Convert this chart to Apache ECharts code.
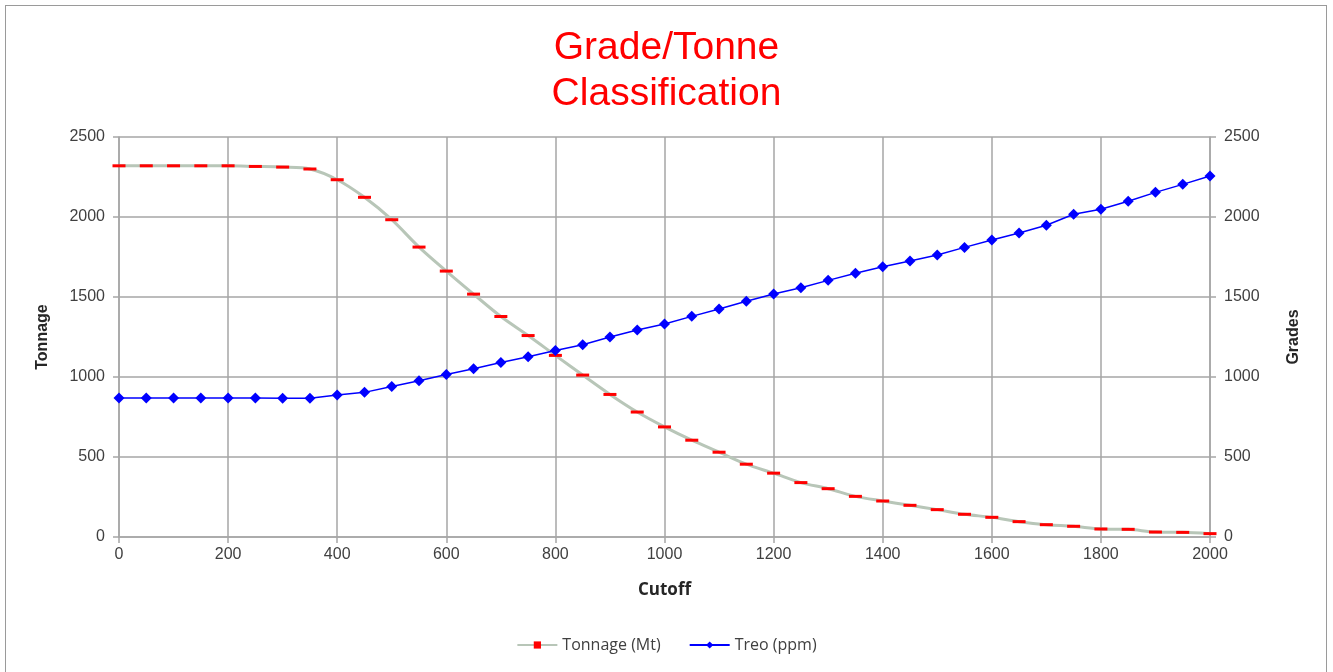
<!DOCTYPE html>
<html>
<head>
<meta charset="utf-8">
<title>Grade/Tonne Classification</title>
<script src="https://cdn.jsdelivr.net/npm/echarts@6/dist/echarts.min.js"></script>
<style>
  html, body { margin: 0; padding: 0; background: #fff; }
  #frame { position: absolute; left: 5px; top: 5px; width: 1322px; height: 680px; border: 1px solid #9a9a9a; box-sizing: border-box; }
  #chart { position: absolute; left: 0; top: 0; width: 1333px; height: 672px; }
</style>
</head>
<body>
<div id="frame"></div>
<div id="chart"></div>
<script>
// cutoff grades (x axis)
const cutoffs = [0, 50, 100, 150, 200, 250, 300, 350, 400, 450, 500, 550, 600, 650, 700, 750, 800,
  850, 900, 950, 1000, 1050, 1100, 1150, 1200, 1250, 1300, 1350, 1400, 1450, 1500, 1550, 1600,
  1650, 1700, 1750, 1800, 1850, 1900, 1950, 2000];

// Tonnage (Mt)
const tonnage = [2320, 2320, 2320, 2320, 2320, 2316, 2312, 2300, 2233, 2123, 1983, 1812, 1662, 1518, 1378, 1259, 1135,
  1012, 891, 781, 688, 605, 530, 455, 399, 340, 302, 254, 225, 198, 171, 142, 123,
  96, 77, 67, 50, 48, 31, 29, 21];

// Treo (ppm)
const treo = [868, 868, 868, 868, 868, 868, 867, 867, 887, 904, 940, 977, 1016, 1051, 1090, 1127, 1165,
  1202, 1250, 1294, 1331, 1379, 1425, 1473, 1519, 1558, 1604, 1648, 1689, 1725, 1762, 1810, 1856,
  1900, 1948, 2017, 2048, 2098, 2154, 2204, 2256];

const gridColor = '#a6a6a6';
const labelColor = '#404040';
const plain = v => String(v);

const chart = echarts.init(document.getElementById('chart'));

chart.setOption({
  animation: false,
  backgroundColor: 'transparent',
  title: {
    text: 'Grade/Tonne\nClassification',
    left: 'center',
    top: 20,
    textStyle: {
      color: '#ff0000',
      fontFamily: 'Liberation Sans, Arial, sans-serif',
      fontSize: 39,
      fontWeight: 'normal',
      lineHeight: 46
    }
  },
  grid: { left: 119, right: 123, top: 137, bottom: 135 },
  legend: {
    bottom: 14,
    left: 'center',
    itemWidth: 40,
    itemHeight: 9,
    itemGap: 28,
    textStyle: { color: '#404040', fontSize: 16, fontFamily: 'Open Sans, sans-serif' },
    data: ['Tonnage (Mt)', 'Treo (ppm)']
  },
  xAxis: {
    type: 'value',
    min: 0,
    max: 2000,
    interval: 200,
    name: 'Cutoff',
    nameLocation: 'middle',
    nameGap: 45,
    nameTextStyle: { color: '#262626', fontSize: 17, fontWeight: 'bold', fontFamily: 'Open Sans, sans-serif' },
    axisLine: { show: true, lineStyle: { color: gridColor, width: 1.5 } },
    axisTick: { show: true, length: 6, lineStyle: { color: gridColor, width: 1.5 } },
    axisLabel: { color: labelColor, fontSize: 16, margin: 10, formatter: plain, fontFamily: 'Liberation Sans, Arial, sans-serif' },
    splitLine: { show: true, lineStyle: { color: gridColor, width: 1.5 } }
  },
  yAxis: [
    {
      type: 'value',
      min: 0,
      max: 2500,
      interval: 500,
      name: 'Tonnage',
      nameLocation: 'middle',
      nameGap: 68,
      nameTextStyle: { color: '#262626', fontSize: 16, fontWeight: 'bold', fontFamily: 'Liberation Sans, Arial, sans-serif' },
      axisLine: { show: true, lineStyle: { color: gridColor, width: 1.5 } },
      axisTick: { show: true, length: 6, lineStyle: { color: gridColor, width: 1.5 } },
      axisLabel: { color: labelColor, fontSize: 16, margin: 14, formatter: plain, fontFamily: 'Liberation Sans, Arial, sans-serif' },
      splitLine: { show: true, lineStyle: { color: gridColor, width: 1.5 } }
    },
    {
      type: 'value',
      min: 0,
      max: 2500,
      interval: 500,
      name: 'Grades',
      nameLocation: 'middle',
      nameGap: 76,
      nameTextStyle: { color: '#262626', fontSize: 16, fontWeight: 'bold', fontFamily: 'Liberation Sans, Arial, sans-serif' },
      axisLine: { show: true, lineStyle: { color: gridColor, width: 1.5 } },
      axisTick: { show: true, length: 6, lineStyle: { color: gridColor, width: 1.5 } },
      axisLabel: { color: labelColor, fontSize: 16, margin: 14, formatter: plain, fontFamily: 'Liberation Sans, Arial, sans-serif' },
      splitLine: { show: false }
    }
  ],
  series: [
    {
      name: 'Tonnage (Mt)',
      type: 'line',
      yAxisIndex: 0,
      smooth: 0.3,
      data: cutoffs.map((c, i) => [c, tonnage[i]]),
      symbol: 'rect',
      symbolSize: [13, 3],
      itemStyle: { color: '#ff0000' },
      lineStyle: { color: '#b8c6b8', width: 3 },
      z: 2
    },
    {
      name: 'Treo (ppm)',
      type: 'line',
      yAxisIndex: 1,
      data: cutoffs.map((c, i) => [c, treo[i]]),
      symbol: 'diamond',
      symbolSize: 11,
      itemStyle: { color: '#0000ff' },
      lineStyle: { color: '#0000ff', width: 1.5 },
      z: 3
    }
  ]
});

window.addEventListener('resize', function () { chart.resize(); });
</script>
</body>
</html>
